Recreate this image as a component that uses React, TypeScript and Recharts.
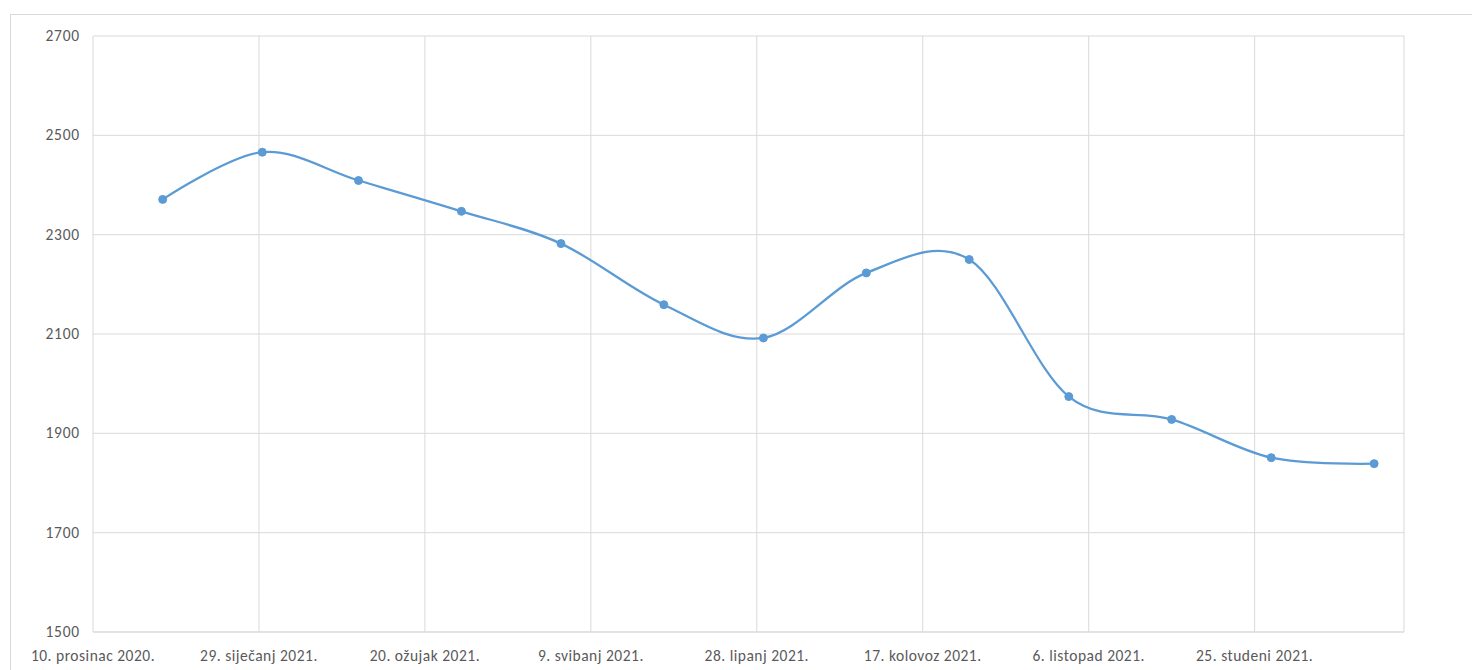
import React from 'react';
import { LineChart, Line, XAxis, YAxis, CartesianGrid } from 'recharts';

const DATES = ['2020-12-31', '2021-01-30', '2021-02-28', '2021-03-31', '2021-04-30', '2021-05-31', '2021-06-30', '2021-07-31', '2021-08-31', '2021-09-30', '2021-10-31', '2021-11-30', '2021-12-31'];
const VALUES = [2371, 2466, 2409, 2347, 2282, 2159, 2092, 2223, 2250, 1974, 1928, 1851, 1839];
const TICK_DATES = ['2020-12-10', '2021-01-29', '2021-03-20', '2021-05-09', '2021-06-28', '2021-08-17', '2021-10-06', '2021-11-25'];
const TICK_LABELS = ['10. prosinac 2020.', '29. siječanj 2021.', '20. ožujak 2021.', '9. svibanj 2021.', '28. lipanj 2021.', '17. kolovoz 2021.', '6. listopad 2021.', '25. studeni 2021.'];
const X_DOMAIN = ['2020-12-10', '2022-01-09'];
const Y_TICKS = [1500, 1700, 1900, 2100, 2300, 2500, 2700];

const toMs = (s: string) => {
  const [y, m, d] = s.split('-').map(Number);
  return Date.UTC(y, m - 1, d);
};

const data = DATES.map((d, i) => ({ t: toMs(d), v: VALUES[i] }));
const tickMs = TICK_DATES.map(toMs);

const FONT = "Calibri, Carlito, 'Liberation Sans', Arial, sans-serif";
const TEXT_COLOR = '#595959';
const GRID = '#d9d9d9';
const BLUE = '#5b9bd5';

// Catmull-Rom style smoothing (cardinal spline, tension 0), similar to Excel smoothed lines
function smoothCurve(context: any) {
  const k = 1 / 6;
  let x0 = NaN, x1 = NaN, x2 = NaN, y0 = NaN, y1 = NaN, y2 = NaN;
  let pt = 0;
  let line: number = NaN;
  const seg = (x: number, y: number) => {
    context.bezierCurveTo(
      x1 + k * (x2 - x0),
      y1 + k * (y2 - y0),
      x2 + k * (x1 - x),
      y2 + k * (y1 - y),
      x2,
      y2
    );
  };
  return {
    areaStart() { line = 0; },
    areaEnd() { line = NaN; },
    lineStart() {
      x0 = x1 = x2 = y0 = y1 = y2 = NaN;
      pt = 0;
    },
    lineEnd() {
      switch (pt) {
        case 2: context.lineTo(x2, y2); break;
        case 3: seg(x1, y1); break;
      }
      if (line || (line !== 0 && pt === 1)) context.closePath();
      line = 1 - line;
    },
    point(x: number, y: number) {
      x = +x; y = +y;
      switch (pt) {
        case 0:
          pt = 1;
          line ? context.lineTo(x, y) : context.moveTo(x, y);
          break;
        case 1:
          pt = 2;
          x1 = x; y1 = y;
          break;
        case 2:
          pt = 3;
          seg(x, y);
          break;
        default:
          seg(x, y);
          break;
      }
      x0 = x1; x1 = x2; x2 = x;
      y0 = y1; y1 = y2; y2 = y;
    },
  };
}

const XTick = (props: any) => {
  const { x, y, payload } = props;
  const idx = tickMs.indexOf(payload.value);
  const label = idx >= 0 ? TICK_LABELS[idx] : '';
  return (
    <text x={x} y={y + 29} textAnchor="middle" fill={TEXT_COLOR} fontSize={15.5} fontFamily={FONT} style={{ letterSpacing: '0.5px' }}>
      {label}
    </text>
  );
};

const YTick = (props: any) => {
  const { x, y, payload } = props;
  return (
    <text x={x - 13} y={y + 5} textAnchor="end" fill={TEXT_COLOR} fontSize={15.5} fontFamily={FONT} style={{ letterSpacing: '0.8px' }}>
      {payload.value}
    </text>
  );
};

export default function App() {
  return (
    <div>
      <div
        style={{
          position: 'fixed',
          left: 10,
          top: 14,
          width: 1480,
          height: 700,
          border: `1px solid ${GRID}`,
          background: '#fff',
        }}
      />
      <div style={{ position: 'fixed', left: 0, top: 0 }}>
        <LineChart width={1472} height={670} data={data} margin={{ top: 36, right: 68, bottom: 8, left: 0 }}>
          <CartesianGrid stroke={GRID} strokeWidth={1} />
          <XAxis
            dataKey="t"
            type="number"
            scale="linear"
            domain={[toMs(X_DOMAIN[0]), toMs(X_DOMAIN[1])]}
            ticks={tickMs}
            interval={0}
            height={30}
            tickSize={0}
            tickMargin={0}
            tickLine={false}
            axisLine={{ stroke: GRID, strokeWidth: 1 }}
            tick={<XTick />}
            allowDataOverflow
          />
          <YAxis
            type="number"
            domain={[1500, 2700]}
            ticks={Y_TICKS}
            interval={0}
            width={93}
            tickSize={0}
            tickMargin={0}
            tickLine={false}
            axisLine={false}
            tick={<YTick />}
          />
          <Line
            dataKey="v"
            type={smoothCurve as any}
            stroke={BLUE}
            strokeWidth={2.25}
            dot={{ r: 4, fill: BLUE, stroke: BLUE, strokeWidth: 1 }}
            activeDot={false}
            isAnimationActive={false}
          />
        </LineChart>
      </div>
    </div>
  );
}
